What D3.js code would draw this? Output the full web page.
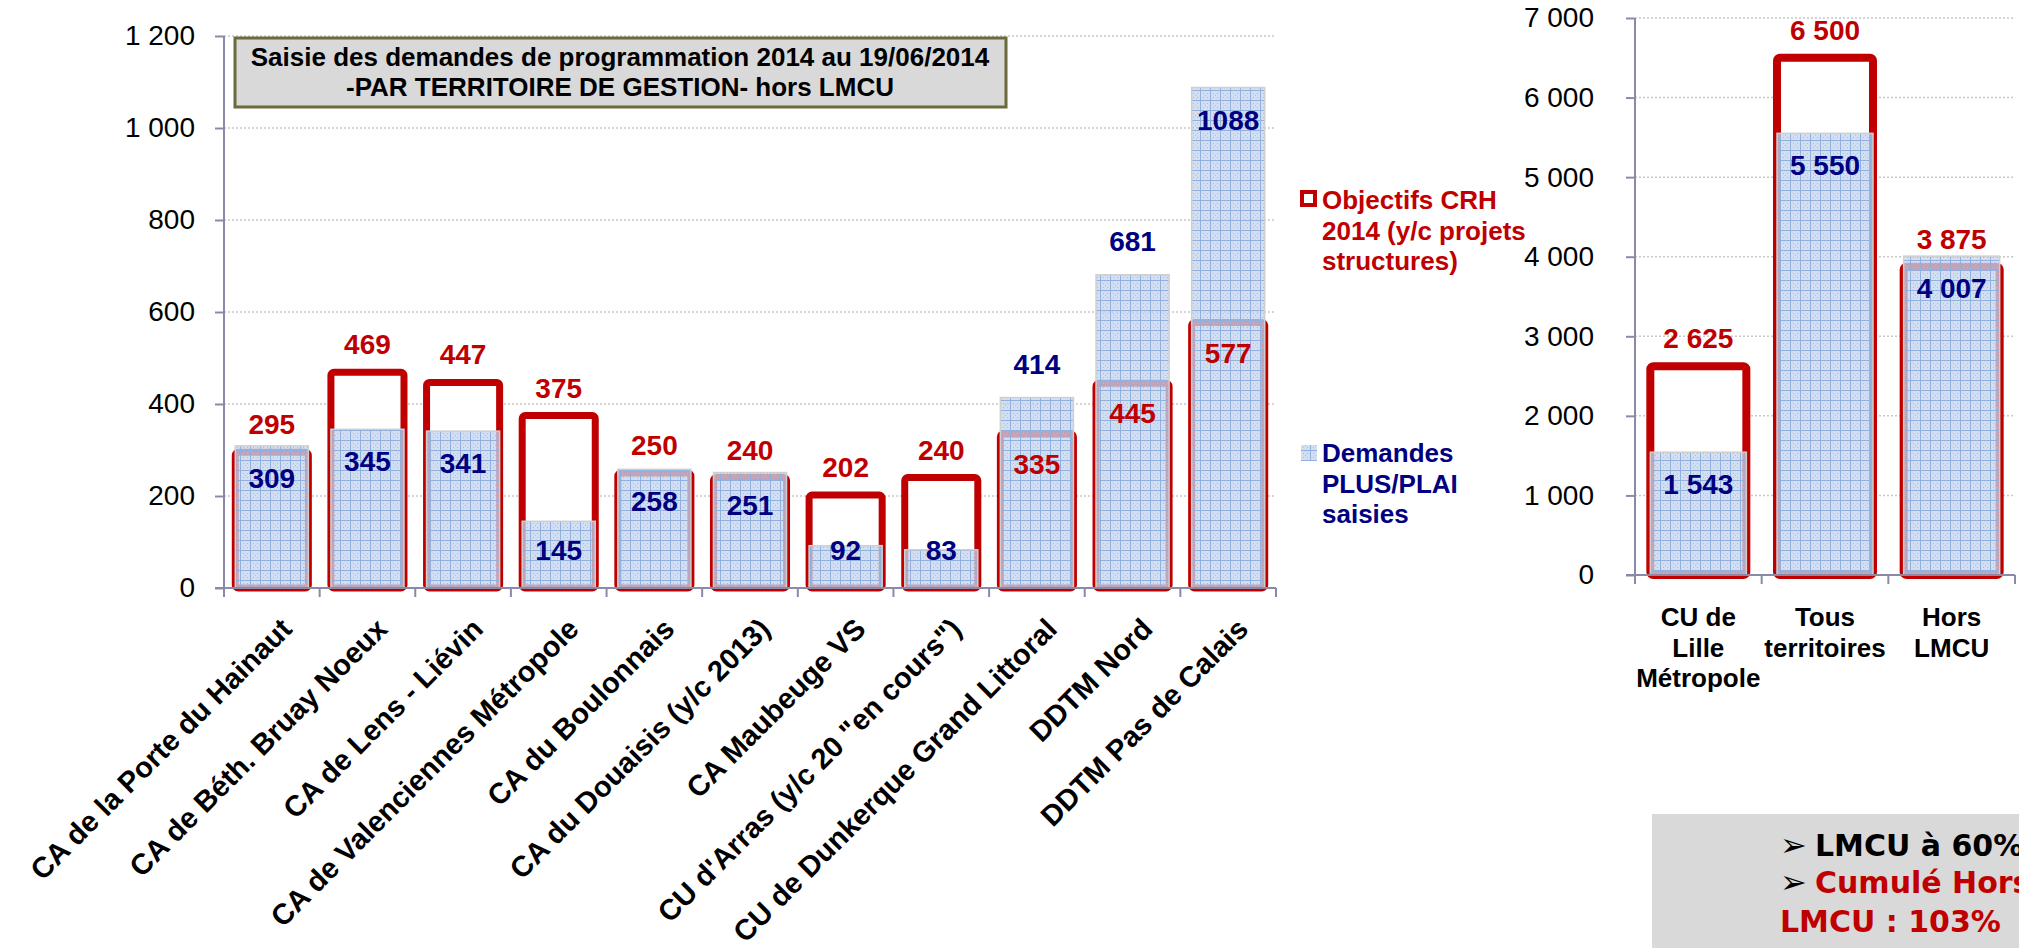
<!DOCTYPE html>
<html>
<head>
  <meta charset="utf-8">
  <title>Saisie des demandes de programmation 2014</title>
  <style>
    body { margin: 0; background: #fff; }
    svg { display: block; font-family: "Liberation Sans", Arial, sans-serif; }
  </style>
</head>
<body>
  <svg width="2019" height="948"></svg>
  <script src="https://d3js.org/d3.v7.min.js"></script>
  <script>

  // données : graphique par territoire de gestion
  var categories = [
    "CA de la Porte du Hainaut",
    "CA de Béth. Bruay Noeux",
    "CA de Lens - Liévin",
    "CA de Valenciennes Métropole",
    "CA du Boulonnais",
    "CA du Douaisis (y/c 2013)",
    "CA Maubeuge VS",
    "CU d'Arras (y/c 20 \"en cours\")",
    "CU de Dunkerque Grand Littoral",
    "DDTM Nord",
    "DDTM Pas de Calais"
  ];
  var objectifs = [295, 469, 447, 375, 250, 240, 202, 240, 335, 445, 577];
  var demandes  = [309, 345, 341, 145, 258, 251, 92, 83, 414, 681, 1088];
  var ticksGauche = [0, 200, 400, 600, 800, 1000, 1200];

  // données : graphique de synthèse
  var categories2 = [["CU de", "Lille", "Métropole"], ["Tous", "territoires"], ["Hors", "LMCU"]];
  var objectifs2 = [2625, 6500, 3875];
  var demandes2  = [1543, 5550, 4007];
  var ticksDroite = [0, 1000, 2000, 3000, 4000, 5000, 6000, 7000];

  var RED = "#c00000", NAVY = "#000080", AXIS = "#8a8aa6";
  var fr = d3.formatLocale({ decimal: ",", thousands: " ", grouping: [3], currency: ["", "€"] });
  var fmtSpace = fr.format(",d");
  var fmtPlain = d3.format("d");

  var svg = d3.select("svg");

  // texture des barres bleues
  var defs = svg.append("defs");
  var pat = defs.append("pattern")
    .attr("id", "bleu")
    .attr("width", 10).attr("height", 10)
    .attr("patternUnits", "userSpaceOnUse");
  pat.append("rect").attr("width", 10).attr("height", 10)
    .attr("fill", "#c4d5ee").attr("fill-opacity", 0.76);
  pat.append("path").attr("d", "M0 0.5H10M0.5 0V10")
    .attr("stroke", "#91b0de").attr("stroke-width", 1);
  [[3, 3], [7, 7], [3, 7], [7, 3], [5, 5]].forEach(function(p) {
    pat.append("rect").attr("x", p[0]).attr("y", p[1]).attr("width", 1).attr("height", 1)
      .attr("fill", "#a6bfe5");
  });

  function drawChart(o) {
    var g = svg.append("g");
    var x = d3.scaleBand().domain(d3.range(o.obj.length)).range([o.x0, o.x1]);
    var y = d3.scaleLinear().domain([0, o.max]).range([o.y0, o.y1]);
    var bw = x.bandwidth() * o.barFrac;

    // grille
    g.selectAll(".grid").data(o.ticks.filter(function(t) { return t > 0; }))
      .enter().append("line")
      .attr("x1", o.x0).attr("x2", o.x1)
      .attr("y1", function(d) { return y(d); }).attr("y2", function(d) { return y(d); })
      .attr("stroke", "#c8c8c8").attr("stroke-width", 1.5)
      .attr("stroke-dasharray", "2,2");

    // axe Y
    var ay = g.append("g")
      .attr("transform", "translate(" + o.x0 + ",0)")
      .call(d3.axisLeft(y).tickValues(o.ticks).tickSize(9).tickPadding(o.pad).tickFormat(fmtSpace));
    ay.select(".domain").remove();
    ay.selectAll("line").attr("stroke", AXIS).attr("stroke-width", 2);
    ay.selectAll("text").attr("font-size", 28).attr("fill", "#000")
      .attr("font-family", "Liberation Sans, Arial, sans-serif");
    g.append("line").attr("x1", o.x0).attr("x2", o.x0).attr("y1", o.y1).attr("y2", o.y0)
      .attr("stroke", AXIS).attr("stroke-width", 2);

    // barres objectifs (contour rouge)
    g.selectAll(".obj").data(o.obj).enter().append("rect")
      .attr("x", function(d, i) { return x(i) + (x.bandwidth() - bw) / 2; })
      .attr("y", function(d) { return y(d); })
      .attr("width", bw)
      .attr("height", function(d) { return o.y0 - y(d); })
      .attr("rx", 3)
      .attr("fill", "#fff")
      .attr("stroke", RED).attr("stroke-width", o.stroke);

    // barres demandes (texture bleue)
    g.selectAll(".dem").data(o.dem).enter().append("rect")
      .attr("x", function(d, i) { return x(i) + (x.bandwidth() - bw) / 2; })
      .attr("y", function(d) { return y(d); })
      .attr("width", bw)
      .attr("height", function(d) { return o.y0 - y(d); })
      .attr("fill", "url(#bleu)")
      .attr("stroke", "#cfcfcf").attr("stroke-width", 1.5);

    // axe X
    g.append("line").attr("x1", o.x0 - 9).attr("x2", o.x1).attr("y1", o.y0).attr("y2", o.y0)
      .attr("stroke", AXIS).attr("stroke-width", 2);
    var bounds = x.domain().map(function(i) { return x(i); }).concat([o.x1]);
    g.selectAll(".xt").data(bounds).enter().append("line")
      .attr("x1", function(d) { return d; }).attr("x2", function(d) { return d; })
      .attr("y1", o.y0).attr("y2", o.y0 + 9)
      .attr("stroke", AXIS).attr("stroke-width", 2);

    // étiquettes de valeurs
    o.obj.forEach(function(r, i) {
      var b = o.dem[i];
      var cx = x(i) + x.bandwidth() / 2;
      var redInside = (b - r) / r > 0.1;
      var yr = redInside ? y(r) + 40 : y(r) - 18;
      var yb;
      if (!redInside || y(b) - 60 < o.y1) yb = Math.min(y(b) + 42, o.y0 - 28);
      else yb = y(b) - 24;
      g.append("text").attr("x", cx).attr("y", yr).attr("text-anchor", "middle")
        .attr("font-size", 28).attr("font-weight", "bold").attr("fill", RED)
        .text(o.fmt(r));
      g.append("text").attr("x", cx).attr("y", yb).attr("text-anchor", "middle")
        .attr("font-size", 28).attr("font-weight", "bold").attr("fill", NAVY)
        .text(o.fmt(b));
    });

    return { g: g, x: x, y: y };
  }

  // graphique 1
  var c1 = drawChart({
    obj: objectifs, dem: demandes, ticks: ticksGauche, max: 1200, pad: 20,
    x0: 224, x1: 1276, y0: 588, y1: 36, barFrac: 0.764, stroke: 7, fmt: fmtPlain
  });

  c1.g.selectAll(".xl").data(categories).enter().append("text")
    .attr("transform", function(d, i) {
      return "translate(" + (c1.x(i) + c1.x.bandwidth() / 2 + 7) + ",616) rotate(-45)";
    })
    .attr("text-anchor", "end")
    .attr("dy", "0.72em")
    .attr("font-size", 29).attr("font-weight", "bold").attr("fill", "#000")
    .text(function(d) { return d; });

  // cadre titre
  var tb = svg.append("g");
  tb.append("rect").attr("x", 235).attr("y", 38).attr("width", 771).attr("height", 69)
    .attr("fill", "#d9d9d9").attr("stroke", "#6b6b3c").attr("stroke-width", 3);
  tb.append("text").attr("x", 620).attr("y", 66).attr("text-anchor", "middle")
    .attr("font-size", 26).attr("font-weight", "bold")
    .text("Saisie des demandes de programmation 2014 au 19/06/2014");
  tb.append("text").attr("x", 620).attr("y", 96).attr("text-anchor", "middle")
    .attr("font-size", 26).attr("font-weight", "bold")
    .text("-PAR TERRITOIRE DE GESTION- hors LMCU");

  // légende
  var lg = svg.append("g").attr("font-size", 26).attr("font-weight", "bold");
  lg.append("rect").attr("x", 1302).attr("y", 192).attr("width", 13).attr("height", 13)
    .attr("fill", "#fff").attr("stroke", RED).attr("stroke-width", 4);
  var l1 = lg.append("text").attr("fill", RED);
  ["Objectifs CRH", "2014 (y/c projets", "structures)"].forEach(function(t, i) {
    l1.append("tspan").attr("x", 1322).attr("y", 209 + i * 30.5).text(t);
  });
  lg.append("rect").attr("x", 1301).attr("y", 445).attr("width", 16).attr("height", 16)
    .attr("fill", "url(#bleu)");
  var l2 = lg.append("text").attr("fill", NAVY);
  ["Demandes", "PLUS/PLAI", "saisies"].forEach(function(t, i) {
    l2.append("tspan").attr("x", 1322).attr("y", 462 + i * 30.5).text(t);
  });

  // graphique 2
  var c2 = drawChart({
    obj: objectifs2, dem: demandes2, ticks: ticksDroite, max: 7000, pad: 32,
    x0: 1635, x1: 2015, y0: 575, y1: 18, barFrac: 0.758, stroke: 8, fmt: fmtSpace
  });

  c2.g.selectAll(".xl2").data(categories2).enter().append("text")
    .attr("text-anchor", "middle")
    .attr("font-size", 26).attr("font-weight", "bold").attr("fill", "#000")
    .each(function(d, i) {
      var t = d3.select(this);
      d.forEach(function(line, j) {
        t.append("tspan").attr("x", c2.x(i) + c2.x.bandwidth() / 2).attr("y", 626 + j * 30.5).text(line);
      });
    });

  // encadré commentaire
  var cm = svg.append("g").attr("font-family", "DejaVu Sans, Verdana, sans-serif")
    .attr("font-weight", "bold").attr("font-size", 30);
  cm.append("rect").attr("x", 1652).attr("y", 814).attr("width", 367).attr("height", 134)
    .attr("fill", "#d9d9d9");
  cm.append("text").attr("x", 1780).attr("y", 856).attr("fill", "#000").attr("font-size", 32).text("➢");
  cm.append("text").attr("x", 1815).attr("y", 856).attr("fill", "#000").text("LMCU à 60%");
  cm.append("text").attr("x", 1780).attr("y", 893).attr("fill", "#000").attr("font-size", 32).text("➢");
  cm.append("text").attr("x", 1815).attr("y", 893).attr("fill", RED).text("Cumulé Hors");
  cm.append("text").attr("x", 1780).attr("y", 932).attr("fill", RED).text("LMCU : 103%");

  </script>
</body>
</html>
